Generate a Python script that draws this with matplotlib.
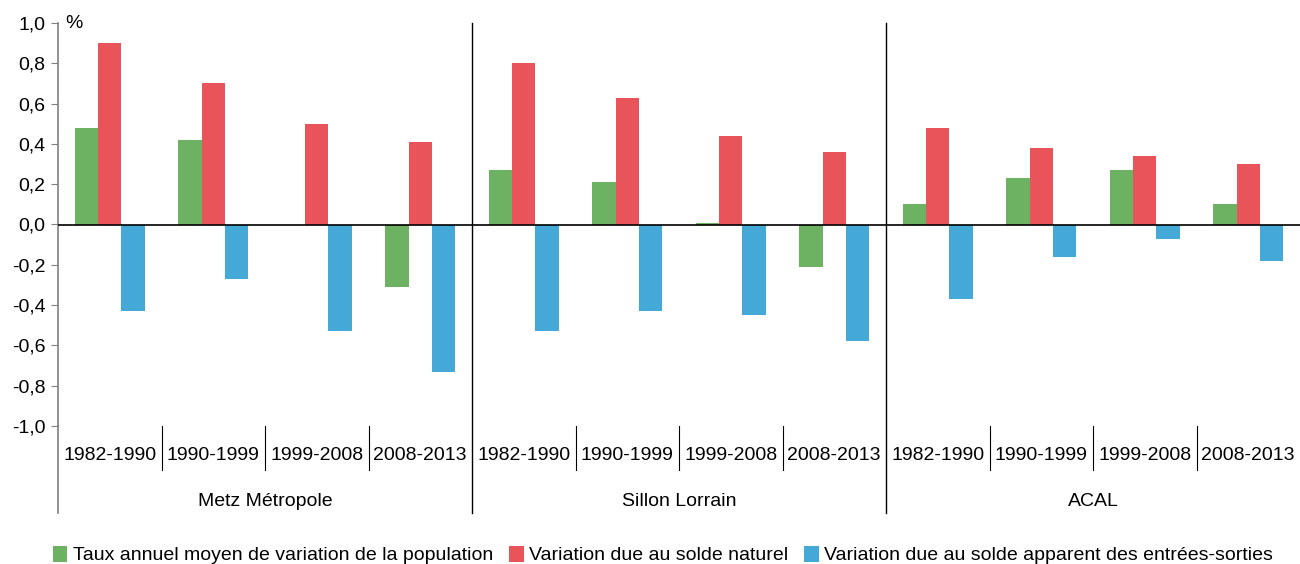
import matplotlib.pyplot as plt
import matplotlib.ticker as mticker
from matplotlib.patches import Patch
import numpy as np

plt.rcParams["font.family"] = ["Liberation Sans", "DejaVu Sans"]
plt.rcParams["axes.unicode_minus"] = False

# Data (% per year)
periods = ["1982-1990", "1990-1999", "1999-2008", "2008-2013"]
zones = ["Metz Métropole", "Sillon Lorrain", "ACAL"]
series_names = [
    "Taux annuel moyen de variation de la population",
    "Variation due au solde naturel",
    "Variation due au solde apparent des entrées-sorties",
]
taux_total = [0.48, 0.42, 0.0, -0.31,
              0.27, 0.21, 0.005, -0.21,
              0.10, 0.23, 0.27, 0.10]
solde_naturel = [0.90, 0.70, 0.50, 0.41,
                 0.80, 0.63, 0.44, 0.36,
                 0.48, 0.38, 0.34, 0.30]
solde_migratoire = [-0.43, -0.27, -0.53, -0.73,
                    -0.53, -0.43, -0.45, -0.58,
                    -0.37, -0.16, -0.07, -0.18]
colors = ["#6DB262", "#E9535A", "#45A9D8"]

W, H = 1300, 564
FS = 14
fig = plt.figure(figsize=(W / 100, H / 100), dpi=100)
ax = fig.add_axes([58 / W, 1 - 426 / H, (W - 58) / W, (426 - 23) / H])

n = len(zones) * len(periods)
x = np.arange(n)
bw = 0.225
for k, vals in enumerate([taux_total, solde_naturel, solde_migratoire]):
    ax.bar(x + (k - 1) * bw, vals, width=bw, color=colors[k], linewidth=0, zorder=2)

ax.set_xlim(-0.5, n - 0.5)
ax.set_ylim(-1.0, 1.0)
ax.axhline(0, color="black", lw=1.2, zorder=3)

ax.yaxis.set_major_locator(mticker.MultipleLocator(0.2))
ax.yaxis.set_major_formatter(mticker.FuncFormatter(lambda v, p: f"{v:.1f}".replace(".", ",")))
ax.tick_params(axis="y", labelsize=FS, length=5, color="#808080", pad=4)
ax.set_xticks([])
for s in ["top", "right", "bottom"]:
    ax.spines[s].set_visible(False)
ax.spines["left"].set_color("#808080")
ax.spines["left"].set_linewidth(1.2)

ax.text(0.006, 1.0, "%", transform=ax.transAxes, fontsize=FS, va="center", ha="left")

# multi-level category axis
trans = ax.get_xaxis_transform()
low_minor = (426 - 470) / 403
low_major = (426 - 513) / 403
ax.plot([-0.5, -0.5], [0, low_major], transform=trans, clip_on=False, color="#808080", lw=1.2)
for i in range(n):
    ax.text(i, (426 - 455) / 403, periods[i % len(periods)], transform=trans,
            ha="center", va="center", fontsize=FS)
    if i < n - 1:
        if (i + 1) % len(periods) == 0:
            ax.plot([i + 0.5, i + 0.5], [1, low_major], transform=trans, clip_on=False,
                    color="black", lw=1)
        else:
            ax.plot([i + 0.5, i + 0.5], [0, low_minor], transform=trans, clip_on=False,
                    color="black", lw=0.8)
for j, z in enumerate(zones):
    c = j * len(periods) + (len(periods) - 1) / 2
    ax.text(c, (426 - 501) / 403, z, transform=trans, ha="center", va="center", fontsize=FS)

handles = [Patch(facecolor=c, edgecolor="none") for c in colors]
fig.legend(handles, series_names, loc="center", bbox_to_anchor=(0.51, 1 - 555 / H),
           ncol=3, frameon=False, fontsize=FS, handlelength=0.75, handleheight=0.9,
           handletextpad=0.3, columnspacing=0.8)

fig.savefig("out.png", dpi=100)
